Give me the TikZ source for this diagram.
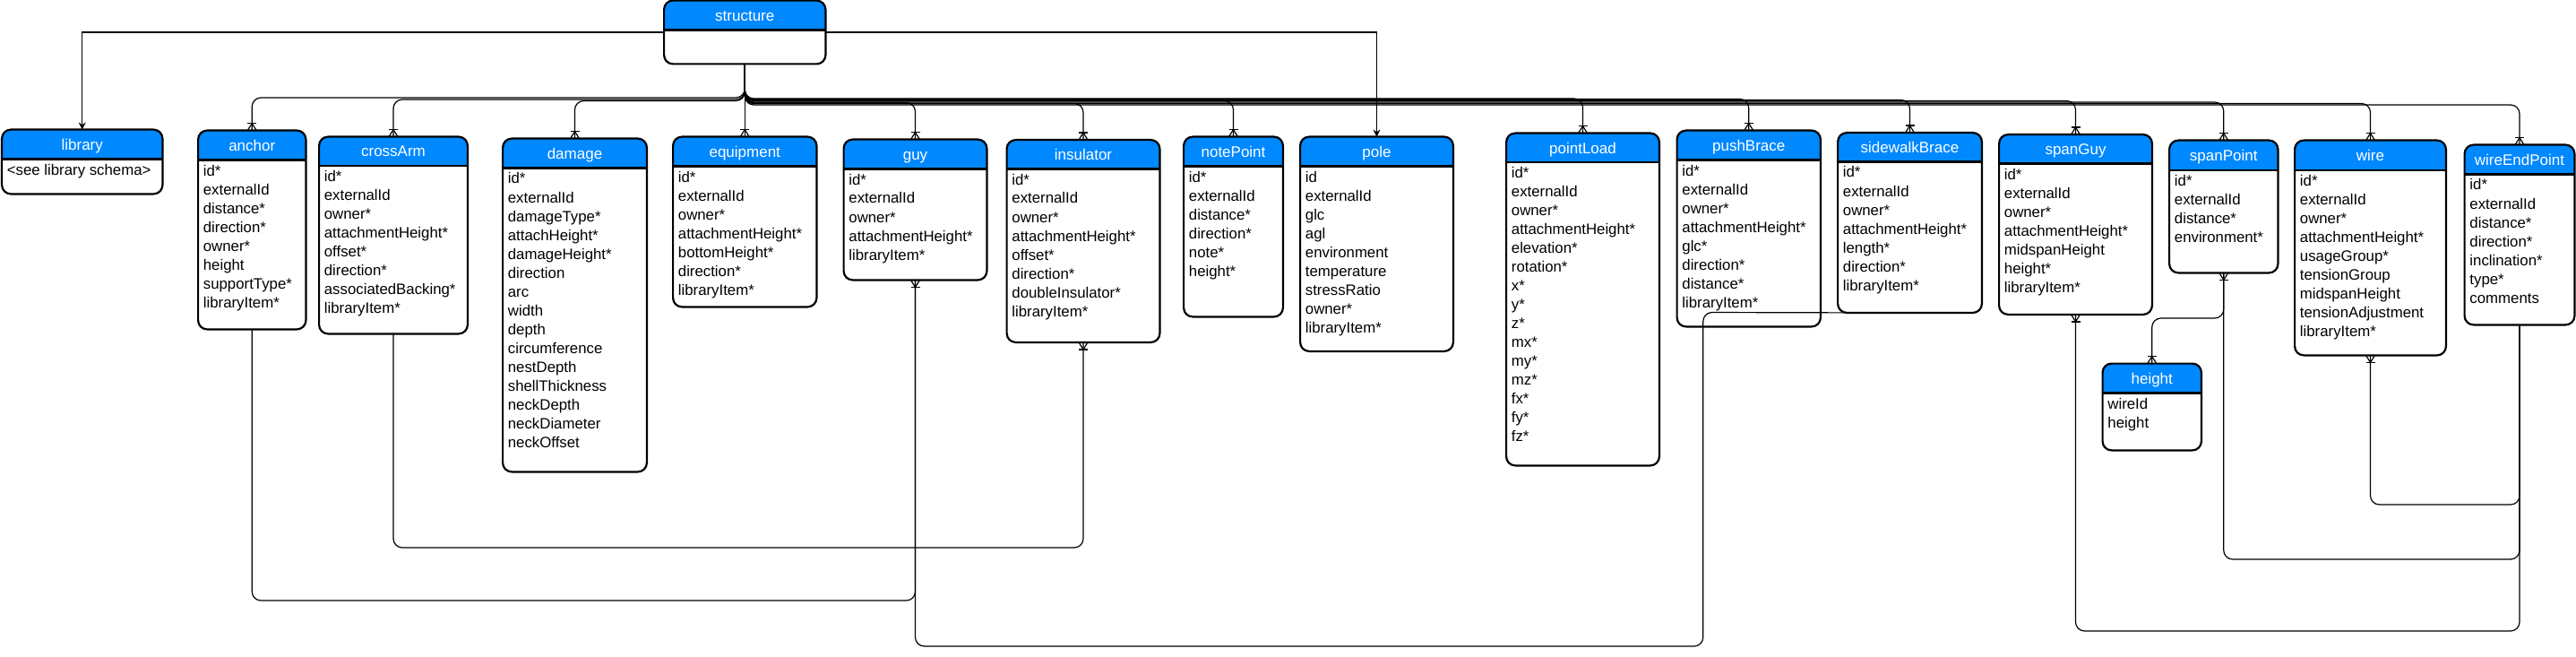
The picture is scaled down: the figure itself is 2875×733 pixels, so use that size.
\documentclass[tikz,border=0pt]{standalone}
\usepackage{fontspec}
\setmainfont{Liberation Sans}
\usetikzlibrary{fit,calc,arrows.meta}
\definecolor{erblue}{RGB}{0,136,255}
\tikzset{
  erline/.style={draw=black, line width=1.1pt},
  conn/.style={draw=black, line width=0.6pt},
  hdrtext/.style={text=white, font=\fontsize{8.5}{10}\selectfont, anchor=base, inner sep=0pt},
  rowtext/.style={text=black, font=\fontsize{8.4}{10}\selectfont, anchor=base west, inner sep=0pt},
  arr/.style={-{Stealth[length=4pt,width=4pt]}}
}
\newcommand\erbox[8]{%
  \node[fit={(#2,#3) (#4,#5)}, inner sep=0pt] (#1) {};
  \begin{scope}
    \clip[rounded corners=5pt] (#1.north west) rectangle (#1.south east);
    \fill[white] (#1.north west) rectangle (#1.south east);
    \fill[erblue] (#1.north west) rectangle (#4,#6);
  \end{scope}
  \draw[erline] (#2,#6) -- (#4,#6);
  \draw[erline, rounded corners=5pt] (#1.north west) rectangle (#1.south east);
  \node[hdrtext] (#1-title) at ({(#2+#4)/2},{(#3+#6)/2+6}) {#7};
  \foreach \t [count=\i from 0] in {#8} {
    \node[rowtext] (#1-r\i) at ({#2+5},{#6+17.5+21*\i}) {\t};
  }
}
\newcommand\crowtop[1]{%
  \draw[conn] ($(#1.north)+(-5,0)$) -- ($(#1.north)+(0,-8)$) -- ($(#1.north)+(5,0)$);
  \draw[conn] ($(#1.north)+(-5,-8)$) -- ($(#1.north)+(5,-8)$);
}
\newcommand\crowbot[1]{%
  \draw[conn] ($(#1.south)+(-5,0)$) -- ($(#1.south)+(0,8)$) -- ($(#1.south)+(5,0)$);
  \draw[conn] ($(#1.south)+(-5,8)$) -- ($(#1.south)+(5,8)$);
}
\newcommand\busto[2]{%
  \draw[conn, rounded corners=5pt] (structure.south) |- (#1.north |- 0,#2) -- (#1.north);
  \crowtop{#1}
}
\begin{document}
\begin{tikzpicture}[x=0.5pt,y=-0.5pt]
\useasboundingbox[fill=white] (0,0) rectangle (2875,733);

% boxes
\erbox{structure}{741.5}{1}{921}{71}{33.5}{structure}{}
\erbox{library}{2.5}{145}{181}{216}{177.5}{library}{<see library schema>}
\erbox{anchor}{221.5}{146}{341}{367}{178.5}{anchor}{id*,externalId,distance*,direction*,owner*,height,supportType*,libraryItem*}
\erbox{crossArm}{356.5}{153}{521.5}{372}{185}{crossArm}{id*,externalId,owner*,attachmentHeight*,offset*,direction*,associatedBacking*,libraryItem*}
\erbox{damage}{561.5}{155}{721.5}{526}{187.5}{damage}{id*,externalId,damageType*,attachHeight*,damageHeight*,direction,arc,width,depth,circumference,nestDepth,shellThickness,neckDepth,neckDiameter,neckOffset}
\erbox{equipment}{751.5}{153}{911}{342}{185.5}{equipment}{id*,externalId,owner*,attachmentHeight*,bottomHeight*,direction*,libraryItem*}
\erbox{guy}{942}{156}{1101}{312}{188.5}{guy}{id*,externalId,owner*,attachmentHeight*,libraryItem*}
\erbox{insulator}{1124}{156.5}{1294}{381.5}{188.5}{insulator}{id*,externalId,owner*,attachmentHeight*,offset*,direction*,doubleInsulator*,libraryItem*}
\erbox{notePoint}{1321.5}{153}{1431.5}{353}{185.5}{notePoint}{id*,externalId,distance*,direction*,note*,height*}
\erbox{pole}{1451.5}{153}{1621.5}{391.5}{185.5}{pole}{id,externalId,glc,agl,environment,temperature,stressRatio,owner*,libraryItem*}
\erbox{pointLoad}{1681.5}{149}{1851.5}{519}{181}{pointLoad}{id*,externalId,owner*,attachmentHeight*,elevation*,rotation*,x*,y*,z*,mx*,my*,mz*,fx*,fy*,fz*}
\erbox{pushBrace}{1872}{146}{2031.5}{364}{178.5}{pushBrace}{id*,externalId,owner*,attachmentHeight*,glc*,direction*,distance*,libraryItem*}
\erbox{sidewalkBrace}{2051.5}{148.5}{2211.5}{348.5}{180.5}{sidewalkBrace}{id*,externalId,owner*,attachmentHeight*,length*,direction*,libraryItem*}
\erbox{spanGuy}{2231.5}{150.5}{2401.5}{350.5}{182.5}{spanGuy}{id*,externalId,owner*,attachmentHeight*,midspanHeight,height*,libraryItem*}
\erbox{spanPoint}{2421.5}{157}{2542}{304}{190}{spanPoint}{id*,externalId,distance*,environment*}
\erbox{height}{2347}{406}{2456.5}{502}{438.5}{height}{wireId,height}
\erbox{wire}{2561.5}{157}{2729.5}{396}{190}{wire}{id*,externalId,owner*,attachmentHeight*,usageGroup*,tensionGroup,midspanHeight,tensionAdjustment,libraryItem*}
\erbox{wireEndPoint}{2751}{162}{2873}{362}{194.5}{wireEndPoint}{id*,externalId,distance*,direction*,inclination*,type*,comments}

% structure bus
\busto{anchor}{109}
\busto{crossArm}{111}
\busto{damage}{112.5}
\busto{guy}{114.5}
\busto{insulator}{115.5}
\busto{notePoint}{112.5}
\busto{pointLoad}{110}
\busto{pushBrace}{110.5}
\busto{sidewalkBrace}{111.5}
\busto{spanGuy}{112.5}
\busto{spanPoint}{114}
\busto{wire}{115.5}
\busto{wireEndPoint}{117}

% structure to equipment (straight)
\draw[conn] (structure.south) -- (equipment.north);
\crowtop{equipment}

% arrows to library and pole
\draw[conn, arr] (structure.west) -| (library.north);
\draw[conn, arr] (structure.east) -| (pole.north);

% bottom connectors
\draw[conn, rounded corners=5pt] (anchor.south) |- (guy.south |- 0,670) -- (guy.south);
\draw[conn, rounded corners=5pt] (crossArm.south) |- (insulator.south |- 0,611) -- (insulator.south);
\draw[conn, rounded corners=5pt] (guy.south) |- (1900.8,721) -- (1900.8,348.5) -- ([xshift=5pt]sidewalkBrace.south west);
\crowbot{guy}
\crowbot{insulator}

\draw[conn, rounded corners=5pt] (spanGuy.south) |- (wireEndPoint.south |- 0,704) -- (wireEndPoint.south);
\draw[conn, rounded corners=5pt] (spanPoint.south) |- (wireEndPoint.south |- 0,624) -- (wireEndPoint.south);
\draw[conn, rounded corners=5pt] (wire.south) |- (wireEndPoint.south |- 0,563) -- (wireEndPoint.south);
\draw[conn, rounded corners=5pt] (spanPoint.south) |- (height.north |- 0,355) -- (height.north);
\crowbot{spanGuy}
\crowbot{spanPoint}
\crowbot{wire}
\crowtop{height}
\end{tikzpicture}
\end{document}
